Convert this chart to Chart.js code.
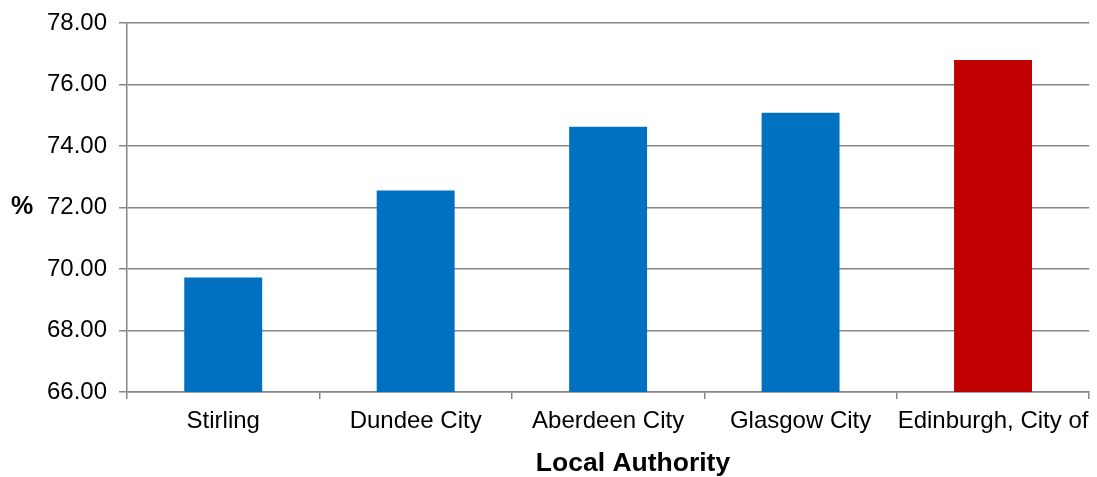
<!DOCTYPE html>
<html>
<head>
<meta charset="utf-8">
<script src="https://cdn.jsdelivr.net/npm/chart.js@4/dist/chart.umd.min.js"></script>
<style>
  html, body { margin: 0; padding: 0; background: #fff; }
  #wrap { width: 1097px; height: 477px; position: relative; }
</style>
</head>
<body>
<div id="wrap"><canvas id="chart"></canvas></div>
<script>
const authorities = ['Stirling', 'Dundee City', 'Aberdeen City', 'Glasgow City', 'Edinburgh, City of'];
const percentages = [69.72, 72.55, 74.63, 75.08, 76.80];
const barColors = ['#0070C0', '#0070C0', '#0070C0', '#0070C0', '#C00000'];
const yTitle = '%';
const xTitle = 'Local Authority';

const gridColor = '#868686';
const fontFamily = '"Liberation Sans", Arial, sans-serif';

// axis titles drawn by hand: "%" sits upright, and the x title is off-centre in the original
const axisTitles = {
    id: 'axisTitles',
    afterDraw(chart) {
        const ctx = chart.ctx;
        const area = chart.chartArea;
        ctx.save();
        ctx.fillStyle = '#000';
        ctx.font = 'bold 25px ' + fontFamily;
        ctx.textAlign = 'center';
        ctx.textBaseline = 'middle';
        ctx.fillText(yTitle, 22, (area.top + area.bottom) / 2);
        ctx.font = 'bold 26.5px ' + fontFamily;
        ctx.fillText(xTitle, 633, 464);
        ctx.restore();
    }
};

new Chart(document.getElementById('chart'), {
    type: 'bar',
    data: {
        labels: authorities,
        datasets: [{
            data: percentages,
            backgroundColor: barColors,
            borderWidth: 0,
            categoryPercentage: 1,
            barPercentage: 0.405
        }]
    },
    plugins: [axisTitles],
    options: {
        responsive: true,
        maintainAspectRatio: false,
        animation: false,
        layout: { padding: { top: 5, right: 6, left: 0, bottom: 0 } },
        plugins: {
            legend: { display: false },
            tooltip: { enabled: false }
        },
        scales: {
            x: {
                afterFit: (scale) => { scale.height = 85; },
                grid: {
                    display: true,
                    offset: true,
                    drawOnChartArea: false,
                    drawTicks: true,
                    tickLength: 7,
                    color: gridColor,
                    lineWidth: 1.5
                },
                border: { color: gridColor, width: 1.5 },
                ticks: {
                    color: '#000',
                    padding: 8,
                    maxRotation: 0,
                    autoSkip: false,
                    font: { family: fontFamily, size: 24 }
                }
            },
            y: {
                min: 66,
                max: 78,
                afterFit: (scale) => { scale.width = 127; },
                grid: {
                    color: gridColor,
                    lineWidth: 1.5,
                    tickLength: 8
                },
                border: { color: gridColor, width: 1.5 },
                ticks: {
                    stepSize: 2,
                    color: '#000',
                    padding: 12,
                    font: { family: fontFamily, size: 24, lineHeight: 0.92 },
                    callback: (v) => v.toFixed(2)
                }
            }
        }
    }
});
</script>
</body>
</html>
